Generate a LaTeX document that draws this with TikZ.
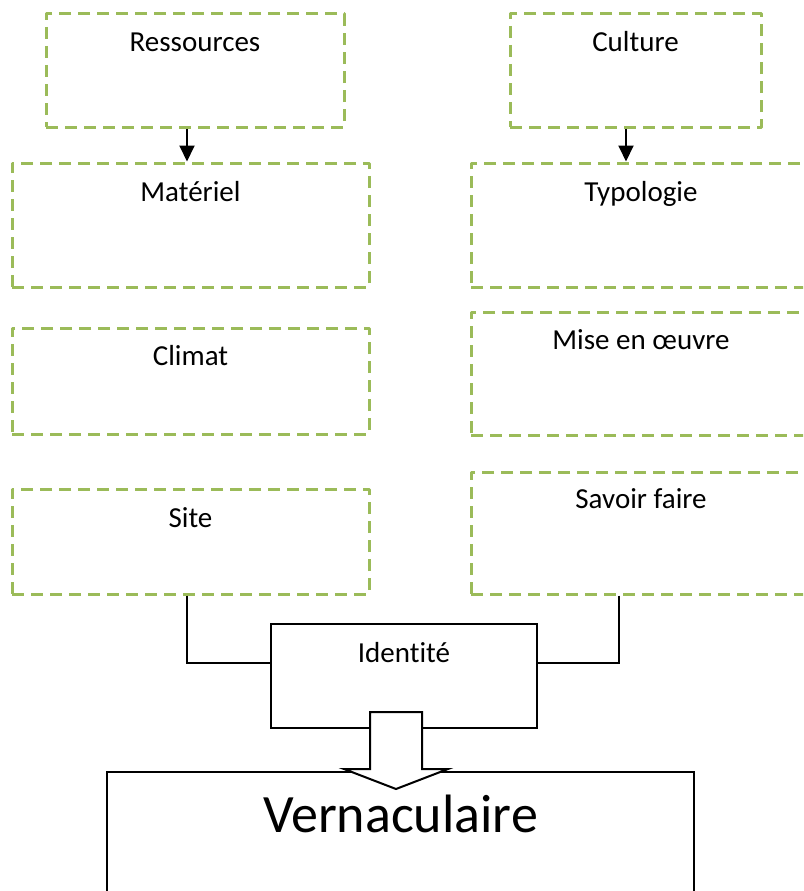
\documentclass[tikz,border=0pt]{standalone}
\usepackage{fontspec}
\setmainfont{Carlito}[Ligatures=NoCommon]
\usetikzlibrary{arrows.meta,calc}
\definecolor{olive}{HTML}{9BBB59}
\tikzset{
  gbox/.style={draw=olive, line width=3pt, dash pattern=on 12pt off 7pt, line join=round, rectangle, inner sep=0pt},
  bbox/.style={draw=black, line width=2pt, rectangle, inner sep=0pt, fill=white},
  lbl/.style={anchor=base, inner sep=0pt, font=\fontsize{29}{35}\selectfont},
  biglbl/.style={anchor=base, inner sep=0pt, font=\fontsize{54}{64}\selectfont},
  conn/.style={draw=black, line width=2pt},
  arr/.style={draw=black, line width=2pt, -{Triangle[length=16pt,width=15pt]}},
}
\newcommand{\boxat}[6]{% name, x1, y1, x2, y2, style
  \node[#6, minimum width={(#4-#2)*1pt}, minimum height={(#5-#3)*1pt}] (#1) at ({(#2+#4)/2},{(#3+#5)/2}) {};
}
\begin{document}
\begin{tikzpicture}[x=1pt,y=-1pt]
\useasboundingbox (0,0) rectangle (803,891);
\clip (0,0) rectangle (803,891);
% green dashed boxes
\boxat{res}{46}{14}{344}{127}{gbox}
\boxat{cul}{510}{14}{761}{127}{gbox}
\boxat{mat}{12}{163}{369}{287}{gbox}
\boxat{typ}{471}{163}{811}{287}{gbox}
\boxat{cli}{12}{328}{369}{434}{gbox}
\boxat{mis}{471}{312}{811}{435}{gbox}
\boxat{sit}{12}{489}{369}{594}{gbox}
\boxat{sav}{471}{472}{811}{594}{gbox}
% labels
\node[lbl] (tres) at ($(res.north)+(0,39)$) {Ressources};
\node[lbl] (tcul) at ($(cul.north)+(0,39)$) {Culture};
\node[lbl] (tmat) at ($(mat.north)+(0,40)$) {Matériel};
\node[lbl] (ttyp) at ($(typ.north)+(0,40)$) {Typologie};
\node[lbl] (tcli) at ($(cli.north)+(0,39)$) {Climat};
\node[lbl] (tmis) at ($(mis.north)+(0,39)$) {Mise en œuvre};
\node[lbl] (tsit) at ($(sit.north)+(0,40)$) {Site};
\node[lbl] (tsav) at ($(sav.north)+(0,38)$) {Savoir faire};
% arrows between top boxes
\draw[arr] ([xshift=-8pt]res.south) -- ([xshift=-8pt]res.south |- mat.north);
\draw[arr] ([xshift=-9.5pt]cul.south) -- ([xshift=-9.5pt]cul.south |- typ.north);
% bottom boxes
\boxat{ver}{107}{772}{694}{960}{bbox}
\node[biglbl] (tver) at ($(ver.north)+(0,61)$) {Vernaculaire};
\boxat{ide}{271}{624}{537}{728}{bbox}
\node[lbl] (tide) at ($(ide.north)+(0,39)$) {Identité};
% connectors
\draw[conn] ([xshift=-3.5pt]sit.south) |- ([yshift=13pt]ide.west);
\draw[conn] ([xshift=-22pt]sav.south) |- ([yshift=13pt]ide.east);
% block arrow
\coordinate (ba) at ($(ide.south)+(-8,-17)$);
\draw[black, line width=2pt, fill=white, line join=miter]
  ($(ba)+(-26,0)$) -- ($(ba)+(26,0)$) -- ($(ba)+(26,57)$) -- ($(ba)+(52,57)$)
  -- ($(ba)+(0,77)$) -- ($(ba)+(-52,57)$) -- ($(ba)+(-26,57)$) -- cycle;
\end{tikzpicture}
\end{document}
